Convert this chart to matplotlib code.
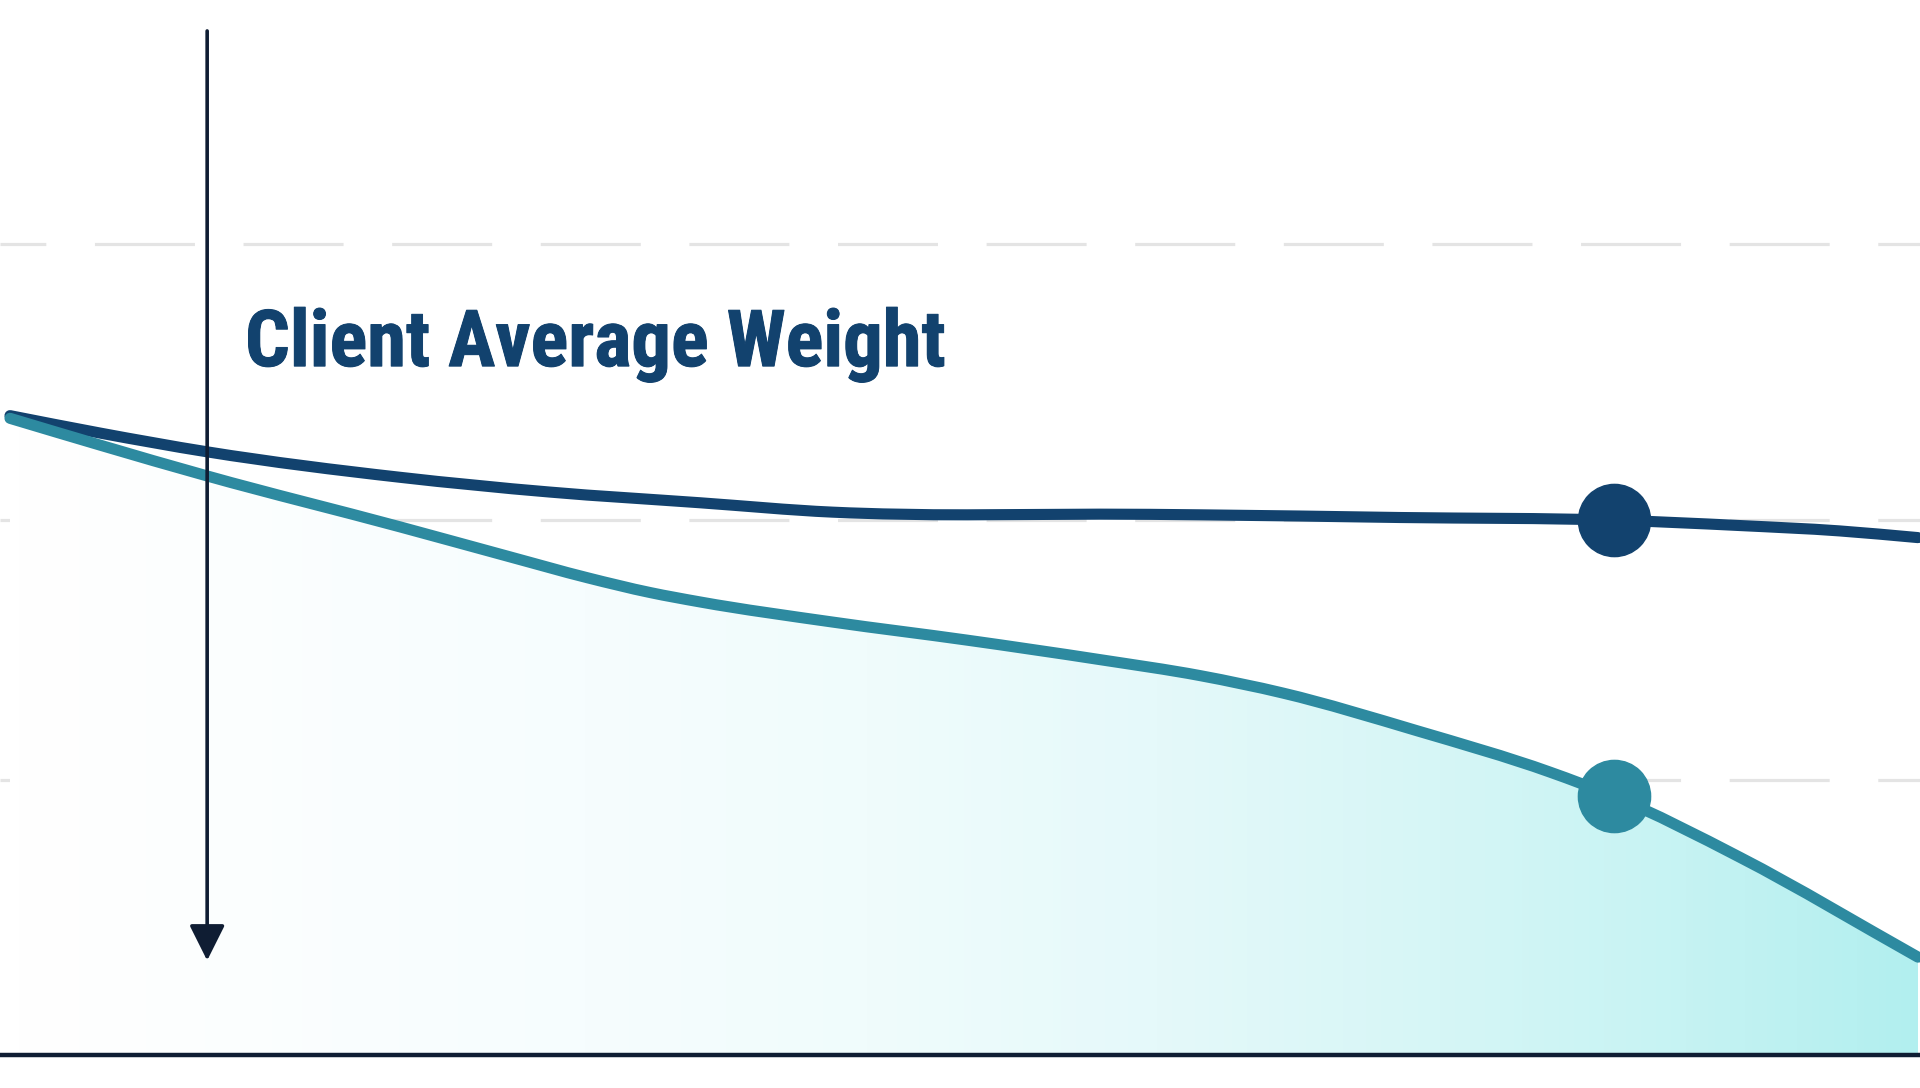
import numpy as np
import matplotlib
matplotlib.use("Agg")
import matplotlib.pyplot as plt
import matplotlib.patheffects as pe
from matplotlib import font_manager as fm
from matplotlib.colors import LinearSegmentedColormap
from matplotlib.path import Path
from matplotlib.patches import PathPatch

# days since start of program
days_navy = [0.0, 8.5, 18.6, 36.8, 50.9, 65.1, 77.6, 90.3, 102.8, 112.3, 131.1, 151.3, 163.2, 172.6, 180.0]
weight_navy = [187.2, 185.9, 184.5, 182.6, 181.5, 180.7, 180.0, 179.8, 179.85, 179.8, 179.6, 179.4, 179.0, 178.6, 178.1]

days_teal = [0.0, 8.5, 18.6, 36.8, 47.0, 54.5, 60.4, 65.1, 77.6, 90.3, 102.8, 112.3, 120.1, 132.7, 145.3, 151.3, 163.2, 180.0]
weight_teal = [187.0, 185.0, 182.7, 178.9, 176.7, 175.1, 174.0, 173.3, 171.8, 170.45, 169.0, 167.8, 166.5, 163.7, 160.6, 158.8, 154.25, 146.8]

marker_day = 151.3
grid_levels = [160.0, 179.4, 200.0]
base_level = 139.5
arrow_day = 18.6
arrow_top = 215.9
arrow_tip = 146.8
title = "Client Average Weight"

NAVY = "#12426e"
TEAL = "#2d8aa0"
INK = "#0f1d33"


def monotone_curve(x, y):
    # monotone cubic (like d3.curveMonotoneX) as bezier segments
    x = np.asarray(x, float)
    y = np.asarray(y, float)
    h = np.diff(x)
    s = np.diff(y) / h
    m = np.zeros_like(y)
    m[0], m[-1] = s[0], s[-1]
    for i in range(1, len(y) - 1):
        if s[i - 1] * s[i] <= 0:
            m[i] = 0
        else:
            m[i] = (s[i - 1] * h[i] + s[i] * h[i - 1]) / (h[i - 1] + h[i])
            m[i] = np.sign(m[i]) * min(abs(m[i]), 3 * min(abs(s[i - 1]), abs(s[i])))
    verts = [(x[0], y[0])]
    codes = [Path.MOVETO]
    for i in range(len(h)):
        d = h[i] / 3
        verts += [(x[i] + d, y[i] + m[i] * d), (x[i + 1] - d, y[i + 1] - m[i + 1] * d), (x[i + 1], y[i + 1])]
        codes += [Path.CURVE4] * 3
    return verts, codes


plt.rcParams["lines.scale_dashes"] = False

fig = plt.figure(figsize=(19.2, 10.88), dpi=100)
ax = fig.add_axes([0, 33 / 1088, 1, 1055 / 1088])
ax.set_xlim(-10 / 10.6, 180 + 2 / 10.6)
ax.set_ylim(base_level, 200 + 244 / 13.4)
ax.axis("off")

# dashed grid
for g in grid_levels:
    ax.axhline(g, color="#e4e4e4", lw=2.3, zorder=1, linestyle=(39, (72, 35)))

navy_v, navy_c = monotone_curve(days_navy, weight_navy)
teal_v, teal_c = monotone_curve(days_teal, weight_teal)

# gradient fill under the teal line
area = Path(teal_v + [(days_teal[-1], base_level), (days_teal[0], base_level), (0, 0)],
            teal_c + [Path.LINETO, Path.LINETO, Path.CLOSEPOLY])
cmap = LinearSegmentedColormap.from_list(
    "fade",
    [(0.0, "#ffffff"), (0.3, "#f6fdfe"), (0.45, "#f0fcfc"), (0.6, "#e5f9fa"),
     (0.75, "#d6f6f6"), (0.88, "#c6f3f3"), (1.0, "#b2efef")])
grad = np.linspace(0, 1, 512).reshape(1, -1)
img = ax.imshow(grad, cmap=cmap, aspect="auto", extent=[0, 180, base_level, max(weight_teal)],
                origin="lower", zorder=2, interpolation="bilinear")
img.set_clip_path(area, transform=ax.transData)

ax.add_patch(PathPatch(Path(navy_v, navy_c), fill=False, edgecolor=NAVY, lw=8,
                       capstyle="round", joinstyle="round", zorder=4))
ax.add_patch(PathPatch(Path(teal_v, teal_c), fill=False, edgecolor=TEAL, lw=8,
                       capstyle="round", joinstyle="round", zorder=5))

ax.plot([marker_day], [np.interp(marker_day, days_navy, weight_navy)], "o", ms=52, color=NAVY, zorder=6)
ax.plot([marker_day], [np.interp(marker_day, days_teal, weight_teal)], "o", ms=52, color=TEAL, zorder=6)

# baseline
ax.axhline(base_level, xmin=0.001, xmax=0.999, color=INK, lw=3.2, zorder=7, clip_on=False)

# vertical arrow
ax.annotate("", xy=(arrow_day, arrow_tip - 0.25), xytext=(arrow_day, arrow_top),
            arrowprops=dict(arrowstyle="-|>,head_length=2.2,head_width=1.1", lw=2.6,
                            color=INK, shrinkA=0, shrinkB=0, mutation_scale=10),
            zorder=8)

# title font: prefer a condensed bold face
names = {f.name for f in fm.fontManager.ttflist}
family = "Roboto"
for cand in ["Roboto Condensed", "Liberation Sans Narrow", "Open Sans Condensed"]:
    if cand in names:
        family = cand
        break

txt = ax.text((245 - 10) / 10.6, 200 - (366 - 244) / 13.4, title, fontsize=57,
              fontweight="black", family=family, color=NAVY, va="baseline", ha="left", zorder=9,
              path_effects=[pe.withStroke(linewidth=0.7, foreground=NAVY)])
fig.canvas.draw()
w = txt.get_window_extent().width
txt.set_fontsize(min(57, 57 * 700 / w))

fig.savefig("out.png", dpi=100)
